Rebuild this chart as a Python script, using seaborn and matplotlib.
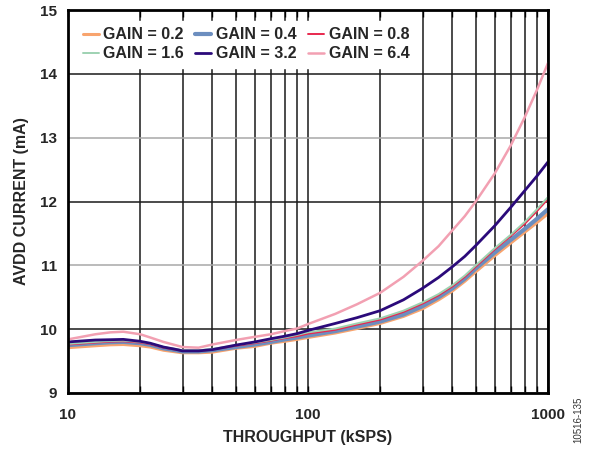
import matplotlib
matplotlib.use('Agg')
import matplotlib.pyplot as plt
import seaborn as sns
from matplotlib.ticker import FixedLocator, NullFormatter

sns.set_style('white')
plt.rcParams['font.family'] = ['Liberation Sans', 'DejaVu Sans']
plt.rcParams['font.weight'] = 'bold'

# throughput in kSPS
throughput = [10, 13, 15, 17, 20, 22, 25, 28, 30, 35, 40, 50, 60, 70, 80, 90, 100,
              130, 160, 200, 250, 300, 350, 400, 450, 500, 600, 700, 800, 900, 1000]

gain_labels = ['GAIN = 0.2', 'GAIN = 0.4', 'GAIN = 0.8',
               'GAIN = 1.6', 'GAIN = 3.2', 'GAIN = 6.4']

# AVDD current (mA) per gain setting
current_g02 = [9.71, 9.74, 9.755, 9.76, 9.74, 9.72, 9.67, 9.645, 9.63, 9.63, 9.64, 9.70, 9.73, 9.78, 9.81, 9.84, 9.87,
               9.94, 10.01, 10.09, 10.20, 10.32, 10.46, 10.60, 10.75, 10.90, 11.15, 11.35, 11.52, 11.67, 11.81]
current_g04 = [9.75, 9.78, 9.795, 9.80, 9.78, 9.755, 9.70, 9.67, 9.65, 9.65, 9.67, 9.72, 9.76, 9.80, 9.84, 9.87, 9.90,
               9.97, 10.04, 10.12, 10.23, 10.36, 10.50, 10.64, 10.79, 10.95, 11.20, 11.40, 11.57, 11.73, 11.88]
current_g08 = [9.76, 9.79, 9.805, 9.81, 9.79, 9.765, 9.71, 9.68, 9.66, 9.66, 9.68, 9.74, 9.78, 9.82, 9.86, 9.89, 9.93,
               9.99, 10.07, 10.15, 10.27, 10.40, 10.53, 10.67, 10.82, 10.98, 11.25, 11.46, 11.65, 11.85, 12.04]
current_g16 = [9.77, 9.80, 9.815, 9.82, 9.80, 9.775, 9.72, 9.69, 9.67, 9.67, 9.69, 9.75, 9.79, 9.83, 9.87, 9.91, 9.95,
               10.01, 10.09, 10.17, 10.29, 10.42, 10.55, 10.69, 10.84, 11.00, 11.27, 11.48, 11.68, 11.88, 12.07]
current_g32 = [9.80, 9.83, 9.835, 9.84, 9.81, 9.78, 9.72, 9.685, 9.66, 9.66, 9.68, 9.75, 9.80, 9.85, 9.89, 9.93, 9.98,
               10.09, 10.18, 10.29, 10.46, 10.64, 10.81, 10.98, 11.14, 11.31, 11.62, 11.91, 12.17, 12.40, 12.62]
current_g64 = [9.84, 9.92, 9.95, 9.96, 9.92, 9.87, 9.80, 9.75, 9.72, 9.71, 9.76, 9.83, 9.88, 9.92, 9.97, 10.01, 10.08,
               10.24, 10.39, 10.57, 10.82, 11.07, 11.30, 11.55, 11.77, 12.00, 12.44, 12.88, 13.32, 13.75, 14.17]

line_colors = ['#F8A46E', '#6C8EBF', '#E8284E', '#9ED2B2', '#2B0A7A', '#F2A0B2']
line_widths = [2.2, 3.0, 1.4, 1.4, 2.0, 1.8]

fig = plt.figure(figsize=(5.92, 4.49), dpi=100)
ax = fig.add_axes([68 / 592, 1 - 393 / 449, 480 / 592, 383 / 449])

all_currents = [current_g02, current_g04, current_g08, current_g16, current_g32, current_g64]
for label, vals, c, lw in zip(gain_labels, all_currents, line_colors, line_widths):
    sns.lineplot(x=throughput, y=vals, ax=ax, color=c, linewidth=lw, label=label)

ax.set_xscale('log')
ax.set_xlim(10, 1000)
ax.set_ylim(9, 15)
ax.xaxis.set_major_locator(FixedLocator([10, 100, 1000]))
ax.set_xticklabels(['10', '100', '1000'])
ax.xaxis.set_minor_formatter(NullFormatter())
ax.set_yticks(range(9, 16))

ax.set_axisbelow(True)
ax.grid(True, which='both', axis='x', color='#1a1a1a', linewidth=1.1)
ax.grid(True, which='major', axis='y', color='#1a1a1a', linewidth=1.1)
for val, gl in zip(range(9, 16), ax.yaxis.get_gridlines()):
    if val % 2 == 1:
        gl.set_color('#a8a8a8')

ax.tick_params(axis='x', which='both', direction='in', top=True, bottom=True,
               length=5, width=1, color='black', labelsize=11, pad=11)
ax.tick_params(axis='y', length=0, labelsize=11, pad=8)
for lab in ax.get_xticklabels() + ax.get_yticklabels():
    lab.set_fontweight('bold')

for sp in ax.spines.values():
    sp.set_color('black')
    sp.set_linewidth(2)

ax.set_xlabel('THROUGHPUT (kSPS)', fontsize=11.5, fontweight='bold')
ax.set_ylabel('AVDD CURRENT (mA)', fontsize=11.5, fontweight='bold')
ax.xaxis.label.set_va('center')
ax.yaxis.label.set_va('center')
ax.xaxis.set_label_coords(0.5, -0.115)
ax.yaxis.set_label_coords(-0.096, 0.5)

# legend fills column-wise, so reorder to get rows 0.2/0.4/0.8 and 1.6/3.2/6.4
handles, labels = ax.get_legend_handles_labels()
order = [0, 3, 1, 4, 2, 5]
leg = ax.legend([handles[i] for i in order], [labels[i] for i in order],
                loc='upper left', bbox_to_anchor=(0.017, 0.971), ncol=3,
                frameon=True, fancybox=False, borderaxespad=0, borderpad=0.4,
                handlelength=1.0, handletextpad=0.3, columnspacing=0.7,
                labelspacing=0.25, prop={'size': 11.5, 'weight': 'bold'})
leg.get_frame().set_facecolor('white')
leg.get_frame().set_edgecolor('white')
leg.get_frame().set_alpha(1)

fig.text(578 / 592, 1 - 420 / 449, '10516-135', rotation=90, ha='center', va='center',
         fontsize=7, fontweight='normal', color='#333333')

fig.savefig('out.png', dpi=100)
